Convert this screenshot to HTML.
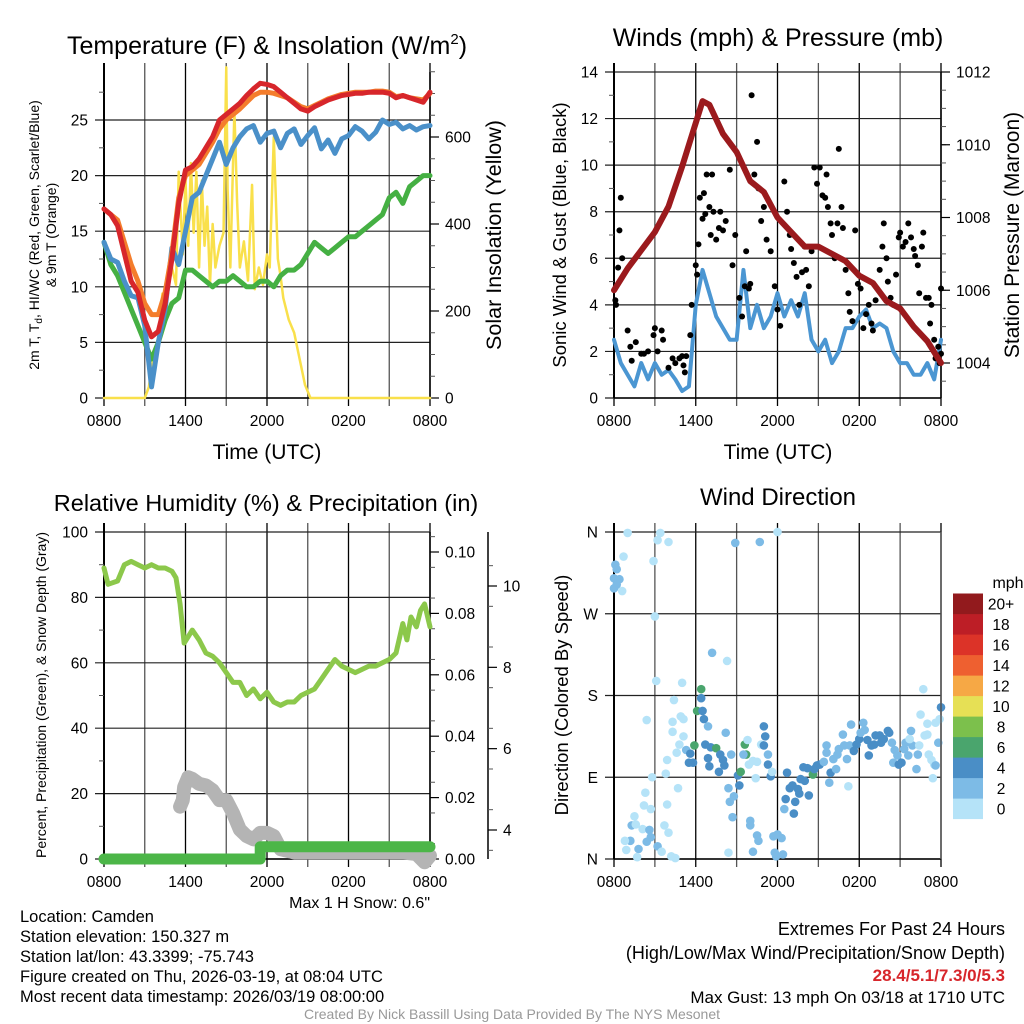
<!DOCTYPE html>
<html><head><meta charset="utf-8"><style>
body{margin:0;background:#fff;}
svg{display:block;font-family:"Liberation Sans",sans-serif;}
</style></head><body>
<svg id="c" width="1024" height="1024" viewBox="0 0 1024 1024"></svg>
<script>
// ---------- DATA ----------
const xTickLabels=["0800","1400","2000","0200","0800"];
const tempTimes=[0,0.5,1,1.5,2,2.5,3,3.5,4,4.5,5,5.5,6,6.5,7,7.5,8,8.5,9,9.5,10,10.5,11,11.5,12,12.5,13,13.5,14,14.5,15,15.5,16,16.5,17,17.5,18,18.5,19,19.5,20,20.5,21,21.5,22,22.5,23,23.5,24];
const tempRed=[17,16.5,15.5,13,10.5,9.5,7,5.5,6,8.5,12.5,17.5,20.5,20.8,21.5,22.5,23.5,25,25.5,26,26.5,27.2,27.8,28.3,28.2,28,27.5,27,26.5,26,25.8,26.2,26.5,26.8,27,27.2,27.3,27.4,27.4,27.5,27.5,27.5,27.4,27,27.2,27,26.8,26.6,27.5];
const tempOrange=[17,16.5,16,14,12,10.5,8.5,7.5,7.5,9.5,13,18,20,20.5,21,22,23,24.2,25,25.5,26,26.6,27.2,27.5,27.5,27.4,27.2,27,26.6,26.2,26,26.3,26.6,26.9,27.1,27.3,27.4,27.5,27.5,27.5,27.6,27.6,27.5,27.1,27.2,27,26.9,26.8,27.4];
const tempBlue=[14,12.5,12.2,10.5,9.2,9,6.5,1,5,8,13.5,12,15,18,18.5,20,21.5,23,21,22.5,23.5,24.2,24.5,23,23.8,24,22.5,23.8,24.2,22.8,23.6,24.3,22.4,23.2,22,23.3,23.6,24.4,24,23.3,23.9,25,24.6,24.8,24.2,24.5,24.1,24.4,24.5];
const tempGreen=[14,12,11,9.5,8,6.5,5,3.5,5,7,8.5,9,11.5,11.5,11,10.5,10,10.5,10.5,11,10.5,10,10,10.5,10.5,10,11,11.5,11.5,12,13,14,13.5,13,13.5,14,14.5,14.5,15,15.5,16,16.5,18,18.5,17.5,19,19.5,20,20];
const solarTimes=[0,3,3.3,3.6,4,4.3,4.6,5,5.3,5.5,5.8,6,6.2,6.4,6.6,6.8,7,7.2,7.4,7.6,7.8,8,8.2,8.5,8.8,9,9.1,9.3,9.6,9.8,10,10.3,10.6,10.9,11.1,11.4,11.7,12,12.2,12.5,12.8,13,13.2,13.6,14,14.4,14.8,15.2,24];
const solarVals=[0,0,25,90,140,240,230,300,260,520,330,500,350,540,380,520,300,500,350,440,260,400,300,350,380,760,480,300,660,450,300,360,270,490,250,300,260,330,300,600,320,280,230,180,150,90,30,0,0];
const windTimes=[0,0.5,1,1.5,2,2.5,3,3.5,4,4.5,5,5.5,6,6.5,7,7.5,8,8.5,9,9.5,10,10.5,11,11.5,12,12.5,13,13.5,14,14.5,15,15.5,16,16.5,17,17.5,18,18.5,19,19.5,20,20.5,21,21.5,22,22.5,23,23.5,24];
const windVals=[2.5,1.5,1,0.5,1.5,0.8,1.5,1,1.2,0.8,0.3,0.5,4,5.5,4.5,3.5,3,2.5,2.5,5.5,3,4,3,3.5,4.5,3.5,4.2,3.5,4.5,2.5,2,2.5,1.5,2,3,3,3.5,3.8,3,3.2,3,2,1.5,1.5,1,1,1.5,0.8,2.5];
const presTimes=[0,1,2,3,4,5,6,6.5,7,8,9,10,11,12,13,14,15,16,17,18,19,20,21,22,23,24];
const presVals=[1006,1006.6,1007.1,1007.6,1008.3,1009.4,1010.6,1011.2,1011.1,1010.3,1009.8,1009,1008.7,1008,1007.6,1007.2,1007.2,1007,1006.8,1006.4,1006.2,1005.7,1005.5,1005,1004.6,1004];
const gustTimes=[0.1,0.15,0.3,0.4,0.5,0.6,1,1.2,1.3,1.6,2,2.2,2.5,2.9,3,3.2,3.5,3.6,4,4.3,4.5,4.8,5,5.1,5.2,5.3,5.6,5.7,6,6.1,6.2,6.3,6.5,6.6,6.7,6.8,7,7.1,7.2,7.3,7.5,7.7,7.8,8,8.2,8.5,8.7,8.9,9.2,9.4,9.6,9.7,9.9,10,10.1,10.3,10.5,10.6,10.8,11,11.2,11.5,11.8,12,12.2,12.5,12.7,12.9,13,13.2,13.4,13.6,13.8,14,14.1,14.3,14.5,14.7,14.9,15.1,15.3,15.5,15.6,15.7,15.9,16,16.2,16.4,16.5,16.7,16.8,17,17.2,17.3,17.5,17.7,17.9,18.1,18.3,18.5,18.7,18.9,19,19.2,19.5,19.7,19.8,20,20.1,20.3,20.5,20.7,20.9,21,21.2,21.4,21.6,21.8,22,22.1,22.3,22.4,22.6,22.7,22.9,23.1,23.2,23.3,23.5,23.6,23.8,23.9,24,24];
const gustVals=[4.2,4,5.6,7.2,8.6,6,2.9,2.2,1.6,2.4,1.9,1.9,2,2.7,3,2,2.9,2.5,1.3,1.7,1.5,1.7,1.8,1.4,1.1,1.8,2.7,4,5.7,5.3,6.6,8.6,7.7,8.8,7.9,9.6,8.2,7,9.6,8,6.8,7.3,8,7.2,7.6,9.8,5.7,7,4.3,3.5,4.8,6.3,4.7,4.9,13,9.6,11,9,7.6,8.2,6.8,6.3,4.8,3.8,3.1,9.3,8,7,6.4,5.8,5.2,4,5.4,6.5,5.5,4.8,6.3,9.9,9.2,9.9,8.7,8.6,9.6,8.2,7.5,7,6,7.5,10.7,8.2,7.3,5.5,4.5,3.7,3.3,7.2,4.9,4.7,3,3.6,4,3.2,2.9,4.2,5.5,6.5,7.5,6,5,4.3,4,5.3,6.9,7.1,6.5,6.7,7.5,6.9,6.4,6.1,5.7,4.5,6.5,7.1,4.3,4.3,3.2,4,2.5,1.7,2.2,1.5,1.9,4.7];
const rhTimes=[0,0.3,1,1.5,2,2.5,3,3.5,4,4.5,5,5.3,5.6,5.9,6.2,6.5,7,7.5,8,8.5,9,9.5,10,10.5,11,11.5,12,12.5,13,13.5,14,14.5,15,15.5,16,16.5,17,17.5,18,18.5,19,19.5,20,20.5,21,21.5,22,22.3,22.6,23,23.3,23.6,24];
const rhVals=[89,84,85,90,91,90,89,90,89,89,88,86,78,66,68,70,67,63,62,60,57,54,54,50,52,49,51,48,47,48,48,50,51,52,55,58,61,59,58,57,58,59,59,60,61,63,72,67,74,71,76,78,71];
const snowTimes=[5.6,5.8,5.9,6.2,6.5,7,7.5,8,8.5,9,9.5,10,10.5,11,11.5,12,12.5,13,14,16,18,20,22,23,23.6,24];
const snowVals=[16,18,22,25,24.5,23,22.5,21,18,18,14,9,7,6,8,8,7,3,2,2,2,2,2,1.5,-1,1];
const precipTimes=[0,11.5,11.5,24];
const precipVals=[0,0,0.004,0.004];
const dirTimes=[1.0,3.4,3.2,4.0,0.7,0.1,0.2,0.0,0.4,0.2,0.0,0.6,2.9,3.0,3.1,5.0,4.4,2.4,4.3,4.3,4.9,5.1,5.1,4.8,4.6,3.9,3.8,2.8,2.3,4.7,3.9,2.2,2.7,1.5,1.3,1.6,2.1,2.6,2.7,2.4,1.2,1.8,0.8,0.9,1.7,3.2,3.5,3.7,4.0,4.2,4.5,6.4,6.4,6.1,6.5,6.6,6.9,5.9,5.3,5.6,5.5,5.8,6.7,7.1,7.5,6.9,7.0,7.7,7.8,8.0,8.2,8.6,8.1,7.2,8.3,8.4,8.8,8.5,8.7,9.2,9.1,9.3,9.6,9.7,9.5,9.9,9.8,10.2,10.4,10.5,10.8,11.0,11.1,11.0,11.3,11.3,11.5,11.6,8.9,10.7,12.0,10.0,10.0,10.5,10.6,10.2,8.4,11.7,12.0,12.3,11.8,11.9,12.4,12.5,12.6,12.7,12.9,13.1,13.2,13.3,13.5,13.6,13.7,13.9,14.0,14.2,14.3,14.6,14.7,14.9,15.1,15.4,15.6,15.6,15.8,15.9,16.1,16.3,16.4,16.5,16.8,16.9,17.1,17.2,17.3,17.4,17.6,17.8,18.0,18.1,18.3,18.4,18.6,18.7,18.9,19.1,19.2,19.5,19.6,19.8,20.1,20.2,20.4,20.6,20.8,20.5,20.9,21.1,21.3,21.4,21.6,21.8,21.9,22.2,22.3,22.4,22.5,22.7,22.8,23.0,23.0,23.1,23.3,23.4,23.5,23.6,23.8,23.9,24.0,23.6,21.7];
const dirDeg=[359,359,351,349,333,324,319,309,308,302,298,295,328,267,196,194,175,153,151,140,157,154,135,126,117,109,94,90,73,78,60,59,55,47,37,38,33,32,24,19,20,11,20,10,2,14,8,37,29,3,1,187,177,163,163,154,146,125,120,116,106,106,126,123,122,111,102,96,115,109,139,115,103,227,218,78,69,63,46,81,92,96,126,115,115,104,131,108,89,107,126,146,135,125,115,104,91,96,348,349,360,42,37,26,20,8,7,25,27,23,7,3,5,55,66,95,78,81,50,63,77,72,88,101,86,100,70,93,99,103,104,107,125,117,84,95,110,99,115,121,137,125,110,80,125,148,119,126,132,139,150,142,131,114,125,126,136,136,128,132,141,139,128,120,114,106,104,106,121,128,114,141,125,99,115,125,159,187,136,149,137,115,109,89,104,150,128,154,167,103,132];
const dirSpeed=[1,1,1,1,1,3,3,3,3,3,3,1,1,1,1,1,1,1,1,1,1,1,1,1,1,1,1,1,1,1,1,1,1,1,3,1,1,3,3,3,3,3,1,1,1,3,1,1,1,1,1,7,5,7,5,5,3,7,3,5,5,5,5,5,7,5,5,5,5,5,3,3,5,3,1,3,3,3,3,5,5,7,7,7,3,1,1,1,1,1,1,5,5,5,3,5,5,1,3,3,1,3,3,3,3,3,1,3,3,3,3,3,3,3,5,5,5,5,5,5,5,5,5,5,5,5,5,7,5,5,5,3,3,3,3,5,3,3,3,3,3,3,3,1,3,3,5,5,5,3,3,3,5,5,5,5,5,5,5,5,5,5,3,3,3,3,5,5,3,3,3,3,3,3,3,1,1,1,1,1,1,1,1,1,1,1,3,1,5,3,1];
const speedBins=["0","2","4","6","8","10","12","14","16","18","20+"];
const speedColors=["#b5e3f8","#7dbbe6","#4a8ec6","#4aa56d","#7cc04c","#e6e055","#f6a845","#ee6030","#dc3328","#bd1e26","#921a1d"];

// ---------- HELPERS ----------
const svg=document.getElementById('c');
const NS="http://www.w3.org/2000/svg";
function mk(tag,attrs,parent){const e=document.createElementNS(NS,tag);for(const k in attrs)e.setAttribute(k,attrs[k]);(parent||svg).appendChild(e);return e;}
function txt(x,y,s,size,anchor,extra){const t=mk('text',Object.assign({x:x,y:y,'font-size':size,'text-anchor':anchor||'middle',fill:'#000'},extra||{}));t.textContent=s;return t;}
function mkLin(d0,d1,r0,r1){return v=>r0+(v-d0)/(d1-d0)*(r1-r0);}
const TK=15.5;

function panel(X0,X1,Y0,Y1,yTicks,yFn,yLab,name){
  const g=mk('g',{});
  
  
  const xs=mkLin(0,24,X0,X1);
  for(let h=0;h<=24;h+=3){const x=xs(h);mk('line',{x1:x,y1:Y0-9,x2:x,y2:Y1+8,stroke:(h%6==0)?'#000':'#555','stroke-width':1.3},g);}
  yTicks.forEach(v=>{const y=yFn(v);mk('line',{x1:X0-9,y1:y,x2:X1,y2:y,stroke:'#222','stroke-width':1.2},g);
    txt(X0-16,y+5.5,yLab?yLab(v):String(v),TK,'end');});
  mk('line',{x1:X0,y1:Y0-9,x2:X0,y2:Y1,stroke:'#000','stroke-width':2},g);
  mk('line',{x1:X0,y1:Y1,x2:X1,y2:Y1,stroke:'#000','stroke-width':1.5},g);
  return {xs,g};
}
function xlabels(xs,y){xTickLabels.forEach((l,i)=>{const t=txt(xs(i*6),y,l,TK);});}
function rightAxis(x,Y0,Y1,ticks,fn,fmt,name,minor){
  mk('line',{x1:x,y1:Y0,x2:x,y2:Y1,stroke:'#000','stroke-width':1.5});
  (minor||[]).forEach(v=>mk('line',{x1:x,y1:fn(v),x2:x+5,y2:fn(v),stroke:'#555','stroke-width':1}));
  ticks.forEach(v=>{mk('line',{x1:x,y1:fn(v),x2:x+9,y2:fn(v),stroke:'#000','stroke-width':1.2});
    const t=txt(x+15,fn(v)+5.5,fmt(v),TK,'start');});
}
function poly(ts,vs,xs,ys,stroke,w,name,cap){
  const p=mk('polyline',{points:ts.map((t,i)=>xs(t)+','+ys(vs[i])).join(' '),fill:'none',stroke:stroke,'stroke-width':w,'stroke-linejoin':'round','stroke-linecap':cap||'round'});
  return p;
}
function rot(x,y,s,size,name){const t=txt(x,y,s,size,'middle',{transform:'rotate(-90 '+x+' '+y+')'});return t;}

// ---------- PANEL 1 ----------
{
 const y=mkLin(0,25,398,120);const ys=mkLin(0,600,398,137);
 const {xs}=panel(104,430,72,398,[0,5,10,15,20,25],y,null,'temperature');
 for(let v=2.5;v<29;v+=5)mk('line',{x1:99,y1:y(v),x2:104,y2:y(v),stroke:'#555'});
 const mn=[];for(let v=100;v<=750;v+=200)mn.push(v);for(let v=50;v<=750;v+=100)mn.push(v);
 rightAxis(430,72,398,[0,200,400,600],ys,v=>String(v),'solar',mn);
 xlabels(xs,426);
 poly(solarTimes,solarVals,xs,ys,'#f9e04b',2.5,'solar-line');
 poly(tempTimes,tempGreen,xs,y,'#45b043',5,'dewpoint-line');
 poly(tempTimes,tempBlue,xs,y,'#4a90c9',5,'heat-index-line');
 poly(tempTimes,tempOrange,xs,y,'#f47d2c',5,'9m-temp-line');
 poly(tempTimes,tempRed,xs,y,'#d7262b',5,'2m-temp-line');
 let t=txt(267,54,'',25);t.innerHTML='Temperature (F) &amp; Insolation (W/m<tspan dy="-10" font-size="15">2</tspan><tspan dy="10">)</tspan>';
 
 t=txt(267,459,'Time (UTC)',21);
 t=txt(39,235,'',14,'middle',{transform:'rotate(-90 39 235)'});t.innerHTML='2m T, T<tspan dy="3" font-size="10">d</tspan><tspan dy="-3">, HI/WC (Red, Green, Scarlet/Blue)</tspan>';
 
 rot(56,235,'& 9m T (Orange)',14,'temperature-y-axis-title-2');
 rot(501,235,'Solar Insolation (Yellow)',21.5,'solar-y-axis-title');
}
// ---------- PANEL 2 ----------
{
 const y=mkLin(0,14,398,72);const yp=mkLin(1004,1012,363,72);
 const {xs}=panel(614,941,72,398,[0,2,4,6,8,10,12,14],y,null,'wind');
 for(let v=1;v<14;v+=2)mk('line',{x1:609,y1:y(v),x2:614,y2:y(v),stroke:'#555'});
 const mn=[];for(let v=1003.5;v<=1012;v+=0.5)mn.push(v);
 rightAxis(941,72,398,[1004,1006,1008,1010,1012],yp,v=>String(v),'pressure',mn);
 xlabels(xs,426);
 poly(windTimes,windVals,xs,y,'#4b96d2',4,'wind-speed-line');
 gustTimes.forEach((t,i)=>{const c=mk('circle',{cx:xs(t),cy:y(gustVals[i]),r:3,fill:'#000'});
  });
 poly(presTimes,presVals,xs,yp,'#9b1a1d',6,'pressure-line');
 let t=txt(778,46,'Winds (mph) & Pressure (mb)',25);
 t=txt(778,459,'Time (UTC)',21);
 rot(566,235,'Sonic Wind & Gust (Blue, Black)',18.5,'wind-y-axis-title');
 rot(1019,235,'Station Pressure (Maroon)',21,'pressure-y-axis-title');
}
// ---------- PANEL 3 ----------
{
 const y=mkLin(0,100,859,532);const yq=mkLin(0,0.1,859,552);const ysn=mkLin(4,10,830,586);
 const {xs}=panel(104,430,532,859,[0,20,40,60,80,100],y,null,'humidity');
 for(let v=10;v<100;v+=20)mk('line',{x1:99,y1:y(v),x2:104,y2:y(v),stroke:'#555'});
 const mn=[];for(let v=0.005;v<0.106;v+=0.01)mn.push(v);
 rightAxis(430,532,859,[0,0.02,0.04,0.06,0.08,0.1],yq,v=>v.toFixed(2),'precip',mn);
 const mn2=[];for(let v=3.5;v<11.5;v+=1)mn2.push(v);
 rightAxis(488,532,859,[4,6,8,10],ysn,v=>String(v),'snow',mn2);
 xlabels(xs,887);
 poly(rhTimes,rhVals,xs,y,'#8cc84b',5,'humidity-line');
 poly(snowTimes,snowVals,xs,y,'#b4b4b4',14,'snow-depth-line');
 poly(precipTimes,precipVals,xs,yq,'#4cb648',11,'precip-line','round');
 let t=txt(266,511,'Relative Humidity (%) & Precipitation (in)',23.5);
 rot(46,695,'Percent, Precipitation (Green), & Snow Depth (Gray)',14,'humidity-y-axis-title');
 t=txt(430,908,'Max 1 H Snow: 0.6"',16,'end');
}
// ---------- PANEL 4 ----------
{
 const y=mkLin(0,360,859,532);
 const {xs}=panel(614,941,532,859,[0,90,180,270,360],y,v=>['N','E','S','W','N'][v/90],'direction');
 xlabels(xs,887);
 dirTimes.forEach((t,i)=>{const b=Math.min(10,Math.floor(dirSpeed[i]/2));
  const c=mk('circle',{cx:xs(t),cy:y(dirDeg[i]),r:4.3,fill:speedColors[b]});
  });
 mk('line',{x1:941,y1:532,x2:941,y2:859,stroke:'#555','stroke-width':1.5});
 let t=txt(778,505,'Wind Direction',24);
 rot(568,695,'Direction (Colored By Speed)',18.5,'direction-y-axis-title');
 const lg=mk('g',{});
 speedColors.forEach((c,i)=>{const yy=819-(i+1)*20.5;mk('rect',{x:953,y:yy,width:30,height:20.6,fill:c},lg);
  const l=txt(1001,yy+16,speedBins[i],15.5,'middle');});
 t=txt(1008,588,'mph',16);
}
// ---------- TEXT ----------
const info=["Location: Camden","Station elevation: 150.327 m","Station lat/lon: 43.3399; -75.743","Figure created on Thu, 2026-03-19, at 08:04 UTC","Most recent data timestamp: 2026/03/19 08:00:00"];
info.forEach((s,i)=>{const t=txt(20,922+i*20,s,16.5,'start');});
[["Extremes For Past 24 Hours",935],["(High/Low/Max Wind/Precipitation/Snow Depth)",959]].forEach(a=>{const t=txt(1005,a[1],a[0],18,'end');});
let e=txt(1005,981,'28.4/5.1/7.3/0/5.3',17,'end',{fill:'#d7262b','font-weight':'bold'});
e=txt(1005,1003,'Max Gust: 13 mph On 03/18 at 1710 UTC',17,'end');
e=txt(512,1019,'Created By Nick Bassill Using Data Provided By The NYS Mesonet',14,'middle',{fill:'#999'});
</script>
</body></html>
